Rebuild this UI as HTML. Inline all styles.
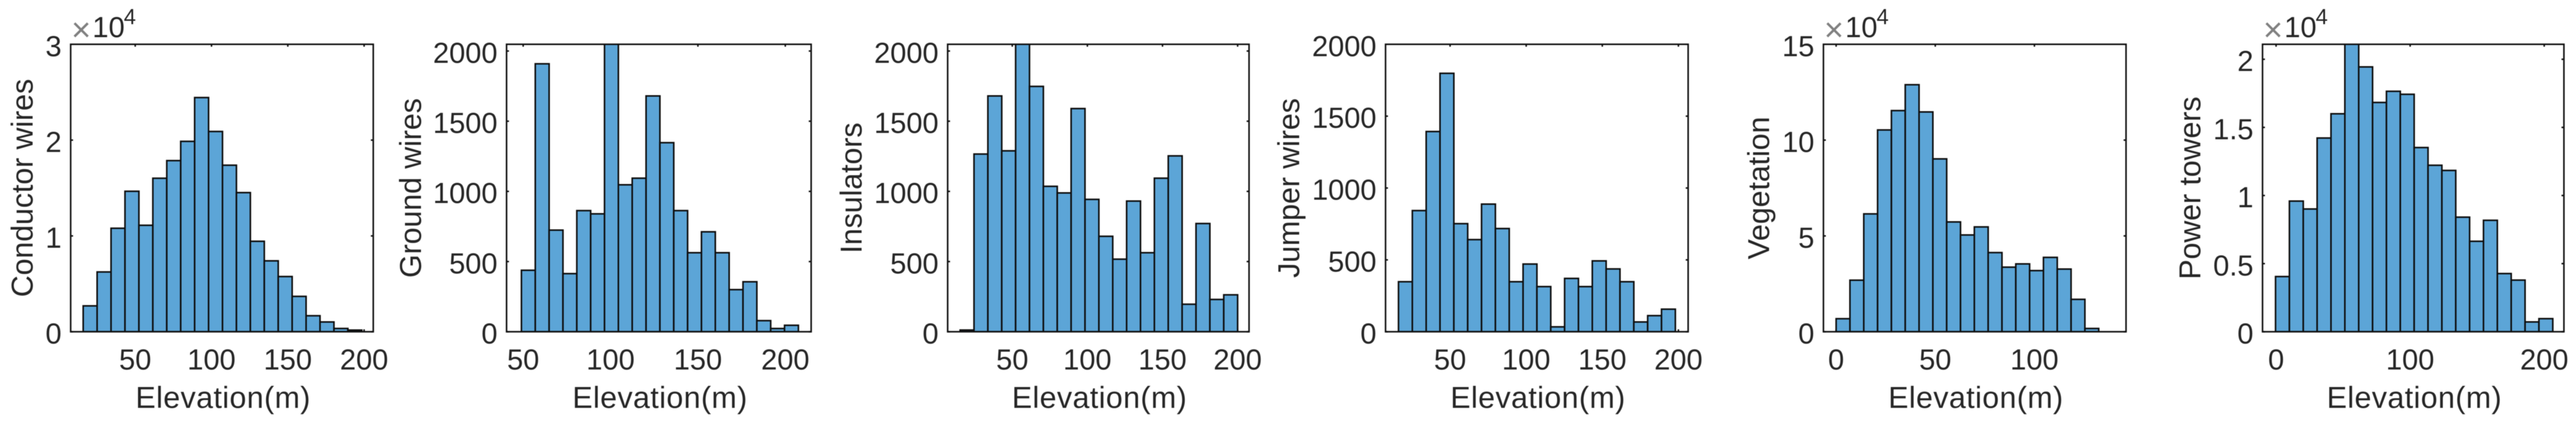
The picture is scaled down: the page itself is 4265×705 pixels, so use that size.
<!DOCTYPE html>
<html lang="en">
<head>
<meta charset="utf-8">
<title>Elevation histograms</title>
<style>
html,body{margin:0;padding:0;background:#fff;width:4265px;height:705px;overflow:hidden}
svg{display:block;filter:blur(0.6px)}
text{font-family:"Liberation Sans",Arial,sans-serif;fill:#262626}
</style>
</head>
<body>
<svg id="chart" xmlns="http://www.w3.org/2000/svg" width="4265" height="705" viewBox="0 0 4265 705">
<rect x="0" y="0" width="4265" height="705" fill="#ffffff"/>
</svg>
<script>
/* ---------- data ---------- */
const xAxisTitle = "Elevation(m)";

const conductorCounts = [0.27,0.624,1.08,1.466,1.111,1.602,1.786,1.987,2.444,2.09,1.738,1.452,0.944,0.74,0.576,0.369,0.167,0.102,0.034,0.017];
const conductorBins = [15.9,9.13];
const conductorXTicks = [50,100,150,200];
const conductorYTicks = [0,1,2,3];
const conductorXRange = [7.7,206];
const conductorYRange = [0,3];

const groundCounts = [438,1909,724,414,863,840,2100,1047,1094,1680,1347,863,563,712,563,300,356,79,23,46];
const groundBins = [49,7.925];
const groundXTicks = [50,100,150,200];
const groundYTicks = [0,500,1000,1500,2000];
const groundXRange = [40.5,214.8];
const groundYRange = [0,2048];

const insulatorCounts = [12,1266,1680,1289,2100,1748,1036,989,1590,943,680,517,931,563,1094,1253,196,771,230,263];
const insulatorBins = [15.3,9.235];
const insulatorXTicks = [50,100,150,200];
const insulatorYTicks = [0,500,1000,1500,2000];
const insulatorXRange = [7,207.6];
const insulatorYRange = [0,2048];

const jumperCounts = [348,843,1393,1798,752,641,888,718,348,471,314,34,371,314,493,437,348,68,112,157];
const jumperBins = [16.1,9.095];
const jumperXTicks = [50,100,150,200];
const jumperYTicks = [0,500,1000,1500,2000];
const jumperXRange = [7.6,206.4];
const jumperYRange = [0,2000];

const vegetationCounts = [0.68,2.69,6.15,10.53,11.54,12.89,11.47,9.02,5.73,5.05,5.47,4.13,3.37,3.54,3.19,3.88,3.27,1.69,0.17];
const vegetationBins = [0,6.97];
const vegetationXTicks = [0,50,100];
const vegetationYTicks = [0,5,10,15];
const vegetationXRange = [-6.4,146.2];
const vegetationYRange = [0,15];

const towerCounts = [0.405,0.959,0.901,1.422,1.6,2.15,1.944,1.683,1.765,1.743,1.352,1.222,1.184,0.841,0.664,0.818,0.427,0.379,0.072,0.096];
const towerBins = [-0.4,10.34];
const towerXTicks = [0,100,200];
const towerYTicks = [0,0.5,1,1.5,2];
const towerXRange = [-10.1,214.7];
const towerYRange = [0,2.11];

/* ---------- layout (pixels) ---------- */
const plotTop = 73.3, plotBottom = 549;
const panels = [
  {key:"conductor-wires",title:"Conductor wires",counts:conductorCounts,bins:conductorBins,xt:conductorXTicks,yt:conductorYTicks,xr:conductorXRange,yr:conductorYRange,left:117,right:618,ylabelX:54,exp:true},
  {key:"ground-wires",title:"Ground wires",counts:groundCounts,bins:groundBins,xt:groundXTicks,yt:groundYTicks,xr:groundXRange,yr:groundYRange,left:838.7,right:1343,ylabelX:697,exp:false},
  {key:"insulators",title:"Insulators",counts:insulatorCounts,bins:insulatorBins,xt:insulatorXTicks,yt:insulatorYTicks,xr:insulatorXRange,yr:insulatorYRange,left:1569,right:2068,ylabelX:1426.5,exp:false},
  {key:"jumper-wires",title:"Jumper wires",counts:jumperCounts,bins:jumperBins,xt:jumperXTicks,yt:jumperYTicks,xr:jumperXRange,yr:jumperYRange,left:2294,right:2795,ylabelX:2151,exp:false},
  {key:"vegetation",title:"Vegetation",counts:vegetationCounts,bins:vegetationBins,xt:vegetationXTicks,yt:vegetationYTicks,xr:vegetationXRange,yr:vegetationYRange,left:3019,right:3520,ylabelX:2929,exp:true},
  {key:"power-towers",title:"Power towers",counts:towerCounts,bins:towerBins,xt:towerXTicks,yt:towerYTicks,xr:towerXRange,yr:towerYRange,left:3746,right:4245,ylabelX:3643,exp:true}
];

const NS = "http://www.w3.org/2000/svg";
const svg = document.getElementById("chart");
const TICK_FONT = 48, LABEL_FONT = 50, TICK_LEN = 4;

function make(tag, attrs, parent, text) {
  const el = document.createElementNS(NS, tag);
  for (const k in attrs) el.setAttribute(k, attrs[k]);
  if (text !== undefined) el.textContent = text;
  parent.appendChild(el);
  return el;
}

const defs = make("defs", {}, svg);

panels.forEach(function (p, idx) {
  const xScale = function (v) { return p.left + (v - p.xr[0]) / (p.xr[1] - p.xr[0]) * (p.right - p.left); };
  const yScale = function (v) { return plotBottom - (v - p.yr[0]) / (p.yr[1] - p.yr[0]) * (plotBottom - plotTop); };

  const g = make("g", {}, svg);
  
  

  const clip = make("clipPath", {id: "clip" + idx}, defs);
  make("rect", {x: p.left, y: plotTop, width: p.right - p.left, height: plotBottom - plotTop}, clip);

  /* ticks */
  p.xt.forEach(function (v) {
    const x = xScale(v);
    const t1 = make("line", {x1: x, x2: x, y1: plotBottom, y2: plotBottom - TICK_LEN, stroke: "#111", "stroke-width": 2.5}, g);
    
    
    const t2 = make("line", {x1: x, x2: x, y1: plotTop, y2: plotTop + TICK_LEN, stroke: "#111", "stroke-width": 2.5}, g);
    
    
    const lab = make("text", {x: x, y: 611.5, "text-anchor": "middle", "font-size": TICK_FONT}, g, String(v));
    
    
  });
  p.yt.forEach(function (v) {
    const y = yScale(v);
    const t1 = make("line", {x1: p.left, x2: p.left + TICK_LEN, y1: y, y2: y, stroke: "#111", "stroke-width": 2.5}, g);
    
    
    const t2 = make("line", {x1: p.right, x2: p.right - TICK_LEN, y1: y, y2: y, stroke: "#111", "stroke-width": 2.5}, g);
    
    
    const lab = make("text", {x: p.left - 15, y: y + 19.5, "text-anchor": "end", "font-size": TICK_FONT}, g, String(v));
    
    
  });

  /* bars */
  const bars = make("g", {"clip-path": "url(#clip" + idx + ")"}, g);
  
  
  p.counts.forEach(function (c, i) {
    const x0 = xScale(p.bins[0] + i * p.bins[1]);
    const x1 = xScale(p.bins[0] + (i + 1) * p.bins[1]);
    const y0 = yScale(c);
    const r = make("rect", {x: x0, y: y0, width: x1 - x0, height: plotBottom - y0, fill: "#5ca5d7", stroke: "#0d0d0d", "stroke-width": 2.6}, bars);
    
    
  });

  /* frame */
  const frame = make("rect", {x: p.left, y: plotTop, width: p.right - p.left, height: plotBottom - plotTop, fill: "none", stroke: "#111", "stroke-width": 2.6}, g);
  
  

  /* axis titles */
  const xt = make("text", {x: (p.left + p.right) / 2 + 2, y: 675, "text-anchor": "middle", "font-size": LABEL_FONT, "letter-spacing": 0.8}, g, xAxisTitle);
  
  

  const yt = make("text", {transform: "translate(" + p.ylabelX + " " + ((plotTop + plotBottom) / 2) + ") rotate(-90)", x: 0, y: 0, "text-anchor": "middle", "font-size": LABEL_FONT}, g, p.title);
  
  

  /* exponent */
  if (p.exp) {
    const m = make("text", {x: p.left + 1, y: 68, "font-size": 56, style: "fill:#808080"}, g, "\u00d7");
    
    
    const b = make("text", {x: p.left + 36, y: 61.5, "font-size": TICK_FONT}, g, "10");
    
    
    const e = make("text", {x: p.left + 88, y: 40, "font-size": 36}, g, "4");
    
    
  }
});
</script>
</body>
</html>
